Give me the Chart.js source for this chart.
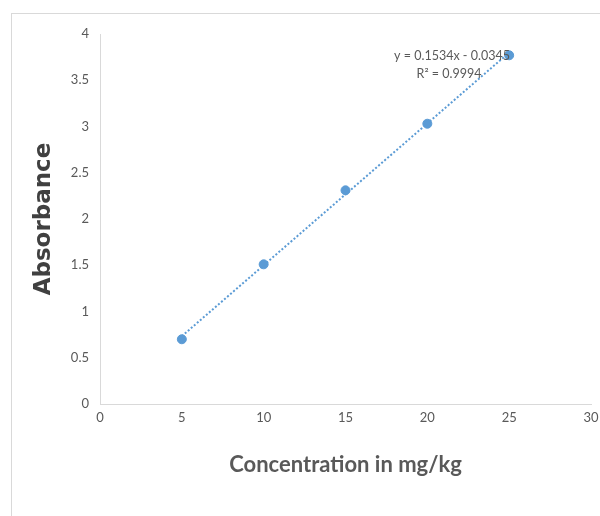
<!DOCTYPE html>
<html>
<head>
<meta charset="utf-8">
<script src="https://cdn.jsdelivr.net/npm/chart.js@4.4.1/dist/chart.umd.min.js"></script>
<style>
  html, body { margin: 0; padding: 0; background: #fff; }
  #wrap { position: relative; width: 600px; height: 516px; overflow: hidden; }
  #frame { position: absolute; left: 11px; top: 13px; width: 700px; height: 600px;
           border-top: 1px solid #d9d9d9; border-left: 1px solid #d9d9d9; }
  #chart { position: absolute; left: 0; top: 0; }
</style>
</head>
<body>
<div id="wrap">
  <div id="frame"></div>
  <canvas id="chart" width="600" height="516"></canvas>
</div>
<script>
// measured points
const concentration = [5, 10, 15, 20, 25];
const absorbance = [0.70, 1.51, 2.31, 3.03, 3.77];

// linear trendline end points
const trendX = [5, 25];
const trendY = [0.733, 3.80];

const equationLines = ['y = 0.1534x - 0.0345', 'R² = 0.9994'];

const xTicks = [0, 5, 10, 15, 20, 25, 30];
const yTicks = [0, 0.5, 1, 1.5, 2, 2.5, 3, 3.5, 4];

const blue = '#5b9bd5';
const textGrey = '#595959';
const labelFont = "Lato, sans-serif";

// trendline label drawn near the last point
const equationLabel = {
    id: 'equationLabel',
    afterDatasetsDraw(chart) {
        const ctx = chart.ctx;
        ctx.save();
        ctx.fillStyle = textGrey;
        ctx.font = '12.5px ' + labelFont;
        ctx.textAlign = 'center';
        ctx.textBaseline = 'middle';
        ctx.fillText(equationLines[0], 452, 56);
        ctx.fillText(equationLines[1], 449, 74);
        ctx.restore();
    }
};

new Chart(document.getElementById('chart'), {
    type: 'scatter',
    data: {
        datasets: [
            {
                label: 'Absorbance',
                data: concentration.map((x, i) => ({ x: x, y: absorbance[i] })),
                backgroundColor: blue,
                borderColor: blue,
                pointRadius: 4.5,
                pointHoverRadius: 4.5,
                order: 1
            },
            {
                label: 'Linear',
                type: 'line',
                data: trendX.map((x, i) => ({ x: x, y: trendY[i] })),
                borderColor: blue,
                borderWidth: 2,
                borderDash: [2, 2],
                pointRadius: 0,
                fill: false,
                order: 2
            }
        ]
    },
    options: {
        responsive: false,
        animation: false,
        layout: { padding: { left: 0, right: 9, top: 34, bottom: 0 } },
        plugins: {
            legend: { display: false },
            tooltip: { enabled: false }
        },
        scales: {
            x: {
                type: 'linear',
                min: 0,
                max: 30,
                afterBuildTicks: (scale) => { scale.ticks = xTicks.map(v => ({ value: v })); },
                afterFit: (scale) => {
                    scale.height = 112;
                    scale.paddingLeft = 0;
                    scale.paddingRight = 0;
                },
                grid: { display: false, drawTicks: false },
                border: { display: true, color: '#d9d9d9', width: 1 },
                ticks: { color: textGrey, font: { family: labelFont, size: 13 }, padding: 6, maxRotation: 0 },
                title: {
                    display: true,
                    text: 'Concentration in mg/kg',
                    color: textGrey,
                    font: { family: labelFont, size: 22, weight: 'bold' },
                    padding: { top: 0, bottom: 38 }
                }
            },
            y: {
                type: 'linear',
                min: 0,
                max: 4,
                afterBuildTicks: (scale) => { scale.ticks = yTicks.map(v => ({ value: v })); },
                afterFit: (scale) => { scale.width = 100; },
                grid: { display: false, drawTicks: false },
                border: { display: true, color: '#d9d9d9', width: 1 },
                ticks: {
                    color: textGrey,
                    font: { family: labelFont, size: 13 },
                    padding: 11,
                    callback: (v) => String(v)
                },
                title: {
                    display: true,
                    text: 'Absorbance',
                    color: '#404040',
                    font: { family: "'DejaVu Sans', sans-serif", size: 23, weight: 'bold' },
                    padding: { top: 30, bottom: 0 }
                }
            }
        }
    },
    plugins: [equationLabel]
});
</script>
</body>
</html>
